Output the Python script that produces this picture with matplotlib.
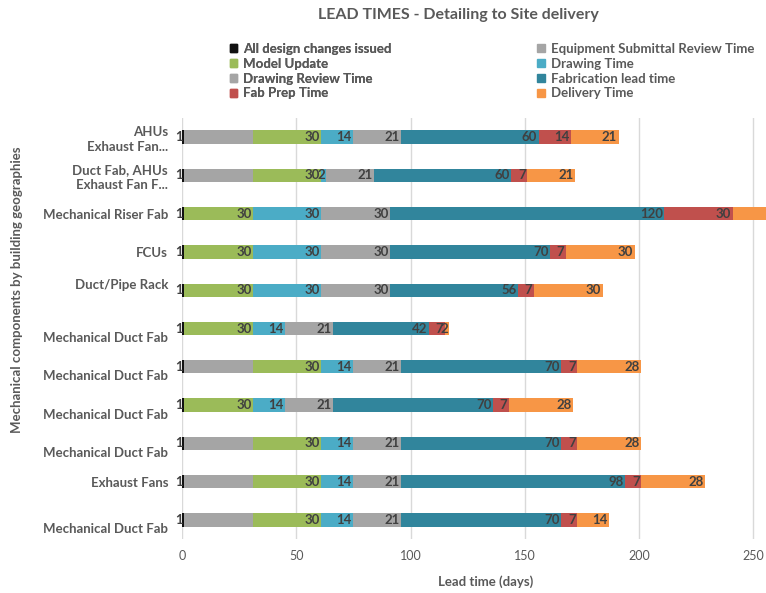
import matplotlib.pyplot as plt
from matplotlib.patches import Patch

plt.rcParams['font.family'] = ['Lato', 'DejaVu Sans']

# components, top to bottom
components = [
    'AHUs\nExhaust Fan...',
    'Duct Fab, AHUs\nExhaust Fan F...',
    'Mechanical Riser Fab',
    'FCUs',
    'Duct/Pipe Rack\n',
    '\nMechanical Duct Fab',
    '\nMechanical Duct Fab',
    '\nMechanical Duct Fab',
    '\nMechanical Duct Fab',
    'Exhaust Fans',
    '\nMechanical Duct Fab',
]

design_changes = [1, 1, 1, 1, 1, 1, 1, 1, 1, 1, 1]
equipment_review = [30, 30, 0, 0, 0, 0, 30, 0, 30, 30, 30]
model_update = [30, 30, 30, 30, 30, 30, 30, 30, 30, 30, 30]
drawing_time = [14, 2, 30, 30, 30, 14, 14, 14, 14, 14, 14]
drawing_review = [21, 21, 30, 30, 30, 21, 21, 21, 21, 21, 21]
fab_lead = [60, 60, 120, 70, 56, 42, 70, 70, 70, 98, 70]
fab_prep = [14, 7, 30, 7, 7, 7, 7, 7, 7, 7, 7]
delivery = [21, 21, 30, 30, 30, 2, 28, 28, 28, 28, 14]

series = [
    ('All design changes issued', design_changes, '#111111', True),
    ('Equipment Submittal Review Time', equipment_review, '#A5A5A5', False),
    ('Model Update', model_update, '#9BBB59', True),
    ('Drawing Time', drawing_time, '#4BACC6', True),
    ('Drawing Review Time', drawing_review, '#A5A5A5', True),
    ('Fabrication lead time', fab_lead, '#31859C', True),
    ('Fab Prep Time', fab_prep, '#C0504D', True),
    ('Delivery Time', delivery, '#F79646', True),
]

label_col = '#404040'
text_col = '#595959'

fig = plt.figure(figsize=(7.66, 5.93), dpi=100)
ax = fig.add_axes([0.2376, 0.091, 0.7624, 0.710])

y = list(range(len(components)))
left = [0] * len(components)
for name, vals, col, show in series:
    ax.barh(y, vals, left=left, height=0.35, color=col, linewidth=0, label=name, zorder=2)
    if show:
        for i, v in enumerate(vals):
            if v > 0:
                # labels whose segment end falls past the axis are skipped
                ax.annotate(str(v), (left[i] + v, i), xytext=(-1, 0), textcoords='offset points',
                            ha='right', va='center', fontsize=9.5, fontweight='bold',
                            color=label_col, annotation_clip=True, clip_on=False, zorder=3)
    left = [l + v for l, v in zip(left, vals)]

ax.set_xlim(0, 255.5)
ax.set_ylim(len(components) - 0.5, -0.5)
ax.set_yticks(y)
ax.set_yticklabels(components, fontsize=9.5, fontweight='bold', color=text_col, linespacing=1.25)
ax.set_xticks([0, 50, 100, 150, 200, 250])
ax.tick_params(axis='x', labelsize=9, labelcolor=text_col, length=0, pad=8)
ax.tick_params(axis='y', length=0, pad=10)
ax.grid(axis='x', color='#D9D9D9', linewidth=1, zorder=0)
for s in ax.spines.values():
    s.set_visible(False)

ax.set_xlabel('Lead time (days)', fontsize=9.5, fontweight='bold', color=text_col)
ax.xaxis.set_label_coords(0.52, -0.085)
fig.text(0.022, 0.511, 'Mechanical components by building geographies', rotation=90,
         ha='center', va='center', fontsize=9.5, fontweight='bold', color=text_col)

fig.text(0.598, 0.975, 'LEAD TIMES - Detailing to Site delivery', ha='center', va='center',
         fontsize=11.5, fontweight='bold', color=text_col)

# two legend columns, as in the workbook
handles = [Patch(color=c, label=n) for n, _, c, _ in series]
leg_kw = dict(frameon=False, handlelength=0.6, handleheight=0.6,
              handletextpad=0.4, labelspacing=0.22, borderpad=0, labelcolor=text_col,
              prop={'weight': 'bold', 'size': 9.5})
left_leg = fig.legend(handles=[handles[i] for i in (0, 2, 4, 6)], loc='upper left',
                      bbox_to_anchor=(0.291, 0.939), **leg_kw)
fig.add_artist(left_leg)
fig.legend(handles=[handles[i] for i in (1, 3, 5, 7)], loc='upper left',
           bbox_to_anchor=(0.693, 0.939), **leg_kw)

fig.savefig('out.png', dpi=100)
